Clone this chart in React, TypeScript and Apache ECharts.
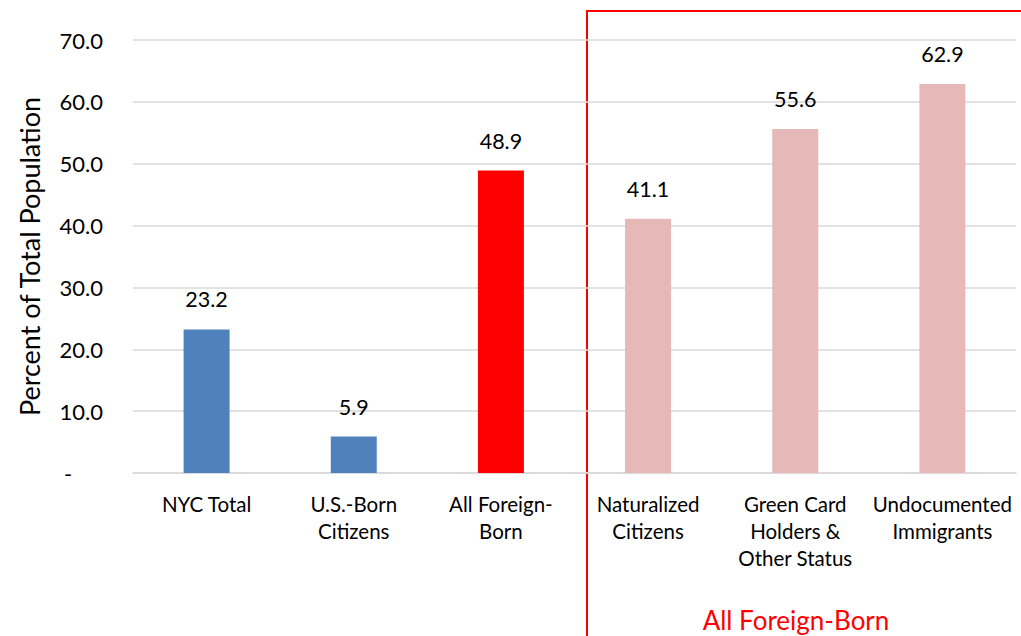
import React, { useEffect, useRef } from "react";
import * as echarts from "echarts";

const categories = [
  "NYC Total",
  "U.S.-Born\nCitizens",
  "All Foreign-\nBorn",
  "Naturalized\nCitizens",
  "Green Card\nHolders &\nOther Status",
  "Undocumented\nImmigrants",
];
const values = [23.2, 5.9, 48.9, 41.1, 55.6, 62.9];
const barColors = ["#4f81bd", "#4f81bd", "#ff0000", "#e6b9b8", "#e6b9b8", "#e6b9b8"];
const yAxisTitle = "Percent of Total Population";
const boxLabel = "All Foreign-Born";

const FONT = "Lato, 'Noto Sans', sans-serif";

export default function App() {
  const ref = useRef<HTMLDivElement>(null);
  useEffect(() => {
    if (!ref.current) return;
    const chart = echarts.init(ref.current, null, { renderer: "svg" });
    chart.setOption({
      animation: false,
      backgroundColor: "#ffffff",
      grid: { left: 133, right: 5, top: 40, bottom: 163, containLabel: false },
      xAxis: {
        type: "category",
        data: categories,
        axisLine: { lineStyle: { color: "#d9d9d9", width: 1.5 } },
        axisTick: { show: false },
        axisLabel: {
          color: "#000",
          fontSize: 20.5,
          fontFamily: FONT,
          lineHeight: 27,
          margin: 17,
          interval: 0,
        },
      },
      yAxis: {
        type: "value",
        min: 0,
        max: 70,
        interval: 10,
        name: yAxisTitle,
        nameLocation: "middle",
        nameGap: 90,
        nameTextStyle: { color: "#000", fontSize: 27, fontFamily: FONT },
        axisLine: { show: false },
        axisTick: { show: false },
        splitLine: { lineStyle: { color: "#d9d9d9", width: 1.5 } },
        axisLabel: {
          color: "#000",
          fontSize: 22,
          fontFamily: FONT,
          margin: 30,
          formatter: (v: number) => (v === 0 ? "{d|-}" : v.toFixed(1)),
          rich: {
            d: { width: 39, align: "left", fontSize: 22, fontFamily: FONT, color: "#000" },
          },
        },
      },
      series: [
        {
          type: "bar",
          barWidth: 46,
          data: values.map((v, i) => ({ value: v, itemStyle: { color: barColors[i] } })),
          label: {
            show: true,
            position: "top",
            distance: 19,
            color: "#000",
            fontSize: 21.5,
            fontFamily: FONT,
            formatter: (p: any) => Number(p.value).toFixed(1),
          },
        },
      ],
      graphic: [
        {
          type: "polyline",
          shape: { points: [[587, 636], [587, 11], [1021, 11]] },
          style: { stroke: "#ff0000", lineWidth: 2, fill: "none" },
        },
        {
          type: "text",
          x: 796,
          y: 620,
          style: {
            text: boxLabel,
            fill: "#ff0000",
            fontSize: 26,
            fontFamily: FONT,
            align: "center",
            verticalAlign: "middle",
          },
        },
      ],
    });
    return () => chart.dispose();
  }, []);
  return (
    <div
      ref={ref}
      style={{ position: "fixed", left: 0, top: 0, width: 1021, height: 636, background: "#fff" }}
    />
  );
}
